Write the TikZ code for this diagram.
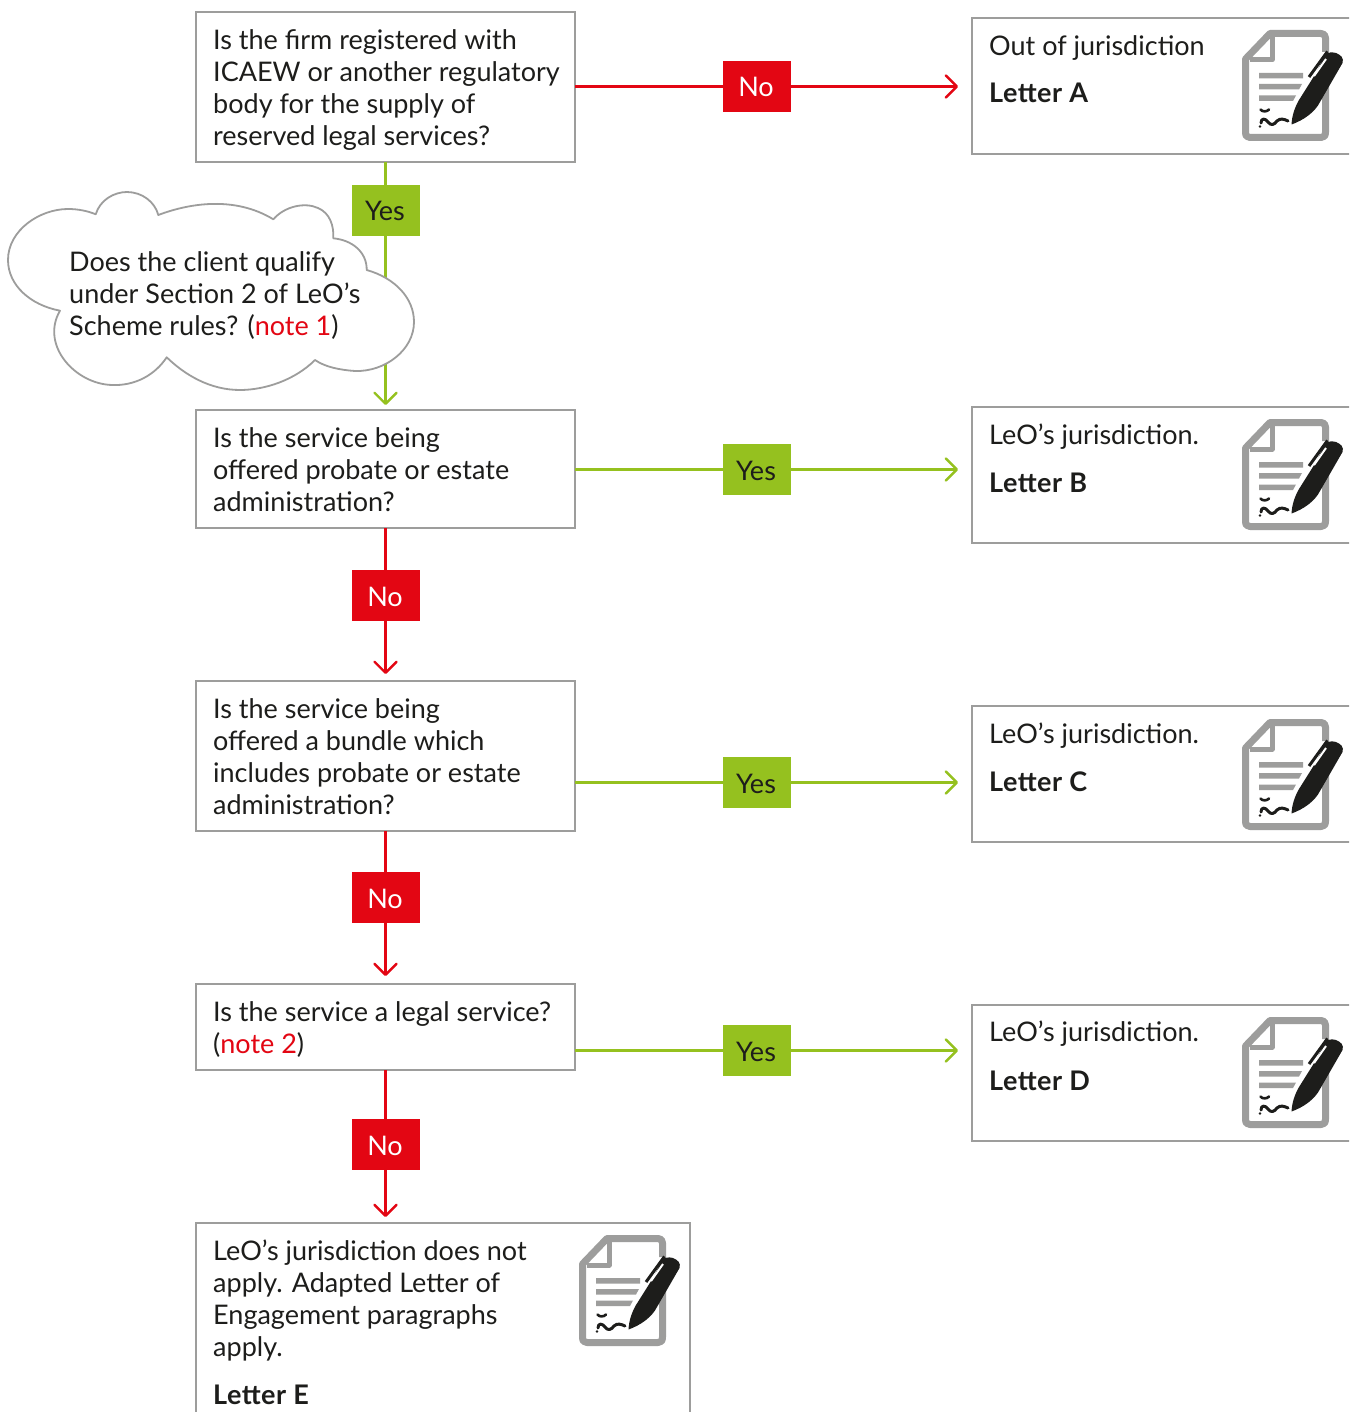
\documentclass[tikz,border=0pt]{standalone}
\usepackage{fontspec}
\setmainfont{Lato}
\usetikzlibrary{arrows.meta,positioning,calc}
\definecolor{txt}{HTML}{1D1D1B}
\definecolor{boxgray}{HTML}{9D9D9C}
\definecolor{nored}{HTML}{E30613}
\definecolor{yesgreen}{HTML}{95C11F}
\newcommand{\nt}[1]{\textcolor{nored}{#1}}
\newcommand{\bd}[1]{{\bfseries\addfontfeature{LetterSpace=1.9}#1}}
\tikzset{
  x=1pt,y=-1pt,
  every node/.style={font=\fontsize{27}{32}\selectfont,text=txt},
  rbox/.style={draw=boxgray,line width=2.6pt,fill=white,anchor=north west,outer sep=0pt,inner sep=0pt},
  plain/.style={anchor=base west,inner sep=0pt,align=left},
  nolab/.style={fill=nored,text=white,minimum width=68pt,minimum height=51pt,inner sep=0pt,text height=21pt,text depth=0pt},
  yeslab/.style={fill=yesgreen,text=txt,minimum width=68pt,minimum height=51pt,inner sep=0pt,text height=21pt,text depth=0pt},
  barb/.tip={Straight Barb[length=11pt,width=22pt,line width=2.4pt,round]},
  redline/.style={draw=nored,line width=2.4pt},
  greenline/.style={draw=yesgreen,line width=2.4pt},
  pics/lettericon/.style={code={
    \draw[boxgray,line width=7pt,line join=round] (83.5,22) -- (83.5,8) .. controls (83.5,5) and (82,3.5) .. (79,3.5) -- (28,3.5) -- (3.5,29) -- (3.5,102) .. controls (3.5,106) and (5,107.5) .. (8,107.5) -- (79,107.5) .. controls (82,107.5) and (83.5,106) .. (83.5,102) -- (83.5,50);
    \draw[boxgray,line width=5pt,line join=round] (30,6) -- (30,30) -- (8,30);
    \fill[boxgray] (17,43) -- (61,43) -- (61,48.5) -- (17,48.5) -- cycle
                   (17,54) -- (60,54) -- (57,59.5) -- (17,59.5) -- cycle
                   (17,65.5) -- (54,65.5) -- (51,71) -- (17,71) -- cycle;
    \draw[white,line width=3.5pt,line join=round] (50,94) .. controls (50,86) and (53,78) .. (57,72) -- (72,46);
    \fill[txt] (49.5,94.5) .. controls (50,85) and (53,77) .. (57,70) -- (74,43) -- (83,25) .. controls (86,22) and (90,22) .. (94,23) .. controls (99,25) and (102,28) .. (100.5,33) -- (78,72) .. controls (73,82) and (62,90) .. cycle;
    \draw[txt,line width=3pt] (67,47) -- (85.5,21.5);
    \draw[white,line width=2pt] (72,46) -- (84,29);
    \draw[txt,line width=2.6pt,line cap=round,line join=round] (18.5,79.5) .. controls (20,82) and (25,82) .. (27,79.5);
    \draw[txt,line width=3pt,line cap=round,line join=round] (19,93) .. controls (19,88) and (23,88) .. (26,92) .. controls (29,96) and (32,95) .. (35,91) .. controls (38,88) and (42,89) .. (46,91);
    \fill[txt] (18,96.5) circle[radius=1.4pt];
  }}
}
\begin{document}
\begin{tikzpicture}
\useasboundingbox (0,0) rectangle (1349,1412);
\clip (0,0) rectangle (1349,1412);

% question boxes
\node[rbox,minimum width=379pt,minimum height=150pt] (q1) at (196,12) {};
\node[rbox,minimum width=379pt,minimum height=118pt] (q2) at (196,410) {};
\node[rbox,minimum width=379pt,minimum height=150pt] (q3) at (196,681) {};
\node[rbox,minimum width=379pt,minimum height=86pt] (q4) at (196,984) {};

% outcome boxes
\node[rbox,minimum width=400pt,minimum height=136pt] (ra) at (972,18) {};
\node[rbox,minimum width=400pt,minimum height=136pt] (rb) at (972,407) {};
\node[rbox,minimum width=400pt,minimum height=136pt] (rc) at (972,706) {};
\node[rbox,minimum width=400pt,minimum height=136pt] (rd) at (972,1005) {};
\node[rbox,minimum width=494pt,minimum height=230pt] (re) at (196,1223) {};

% labels
\node[nolab]  (l1) at (757,86.5) {No\kern2pt};
\node[yeslab] (l2) at (757,469.5) {Yes\kern2pt};
\node[yeslab] (l3) at (757,782.5) {Yes\kern2pt};
\node[yeslab] (l4) at (757,1050.5) {Yes\kern2pt};
\node[yeslab] (v1) at (386,210.5) {Yes\kern2pt};
\node[nolab]  (v2) at (386,595.5) {No\kern2pt};
\node[nolab]  (v3) at (386,897.5) {No\kern2pt};
\node[nolab]  (v4) at (386,1144.5) {No\kern2pt};

% connectors
\draw[redline] (q1.east |- l1) -- (l1);
\draw[redline,-{barb},shorten >=14pt] (l1) -- (ra.west |- l1);
\draw[greenline] (q2.east |- l2) -- (l2);
\draw[greenline,-{barb},shorten >=14pt] (l2) -- (rb.west |- l2);
\draw[greenline] (q3.east |- l3) -- (l3);
\draw[greenline,-{barb},shorten >=14pt] (l3) -- (rc.west |- l3);
\draw[greenline] (q4.east |- l4) -- (l4);
\draw[greenline,-{barb},shorten >=14pt] (l4) -- (rd.west |- l4);
\draw[greenline] (q1.south) -- (q1.south |- v1.north);
\draw[greenline,-{barb},shorten >=5pt] (q1.south |- v1.south) -- (q2.north);
\draw[redline] (q2.south) -- (q2.south |- v2.north);
\draw[redline,-{barb},shorten >=7pt] (q2.south |- v2.south) -- (q3.north);
\draw[redline] (q3.south) -- (q3.south |- v3.north);
\draw[redline,-{barb},shorten >=8pt] (q3.south |- v3.south) -- (q4.north);
\draw[redline] (q4.south) -- (q4.south |- v4.north);
\draw[redline,-{barb},shorten >=6pt] (q4.south |- v4.south) -- (q4.south |- re.north);

% question text
\node[plain] (q1t) at (213,145.5) {Is the firm registered with\\ICAEW or another regulatory\\body for the supply of\\reserved legal services?};
\node[plain] (q2t) at (213,511.5) {Is the service being\\offered probate or estate\\administration?};
\node[plain] (q3t) at (213,814.5) {Is the service being\\offered a bundle which\\includes probate or estate\\administration?};
\node[plain] (q4t) at (213,1053.5) {Is the service a legal service?\\(\nt{note 2})};

% cloud
\filldraw[draw=boxgray,fill=white,line width=1.8pt,line join=round]
  (95.7,214.3) .. controls (100,200) and (114,192) .. (127,192)
  .. controls (142,192) and (155,202) .. (158.3,215)
  .. controls (190,203) and (235,196) .. (273.3,219.3)
  .. controls (285,206) and (305,202) .. (318,208)
  .. controls (330,213) and (334,226) .. (333.3,238.3)
  .. controls (352,240) and (367,252) .. (366.7,270)
  .. controls (395,278) and (414,298) .. (414,322)
  .. controls (414,350) and (385,372) .. (355,371)
  .. controls (340,370) and (325,367) .. (315,360)
  .. controls (295,380) and (265,390) .. (240,390)
  .. controls (210,390) and (185,375) .. (166.7,357.3)
  .. controls (155,375) and (135,386) .. (112,385)
  .. controls (75,384) and (40,345) .. (60,310.7)
  .. controls (30,305) and (8,285) .. (8,260)
  .. controls (8,230) and (40,209) .. (68,209)
  .. controls (78,209) and (88,211) .. (95.7,214.3) -- cycle;
\node[plain] (cloudtext) at (69,335.5) {Does the client qualify\\under Section 2 of LeO’s\\Scheme rules? (\nt{note 1})};

% outcome text
\node[plain] (ta) at (989,55.5) {Out of jurisdiction};
\node[plain] (tab) at (989,103) {\bd{Letter A}};
\node[plain] (tb) at (989,444.5) {LeO’s jurisdiction.};
\node[plain] (tbb) at (989,492) {\bd{Letter B}};
\node[plain] (tc) at (989,743.5) {LeO’s jurisdiction.};
\node[plain] (tcb) at (989,791) {\bd{Letter C}};
\node[plain] (td) at (989,1041.5) {LeO’s jurisdiction.};
\node[plain] (tdb) at (989,1090) {\bd{Letter D}};
\node[plain] (te) at (213,1356.5) {LeO’s jurisdiction does not\\apply. Adapted Letter of\\Engagement paragraphs\\apply.};
\node[plain] (teb) at (213,1404) {\bd{Letter E}};

% icons
\pic at (1242,30) {lettericon};
\pic at (1242,419) {lettericon};
\pic at (1242,719) {lettericon};
\pic at (1242,1017) {lettericon};
\pic at (579,1235) {lettericon};
\end{tikzpicture}
\end{document}
